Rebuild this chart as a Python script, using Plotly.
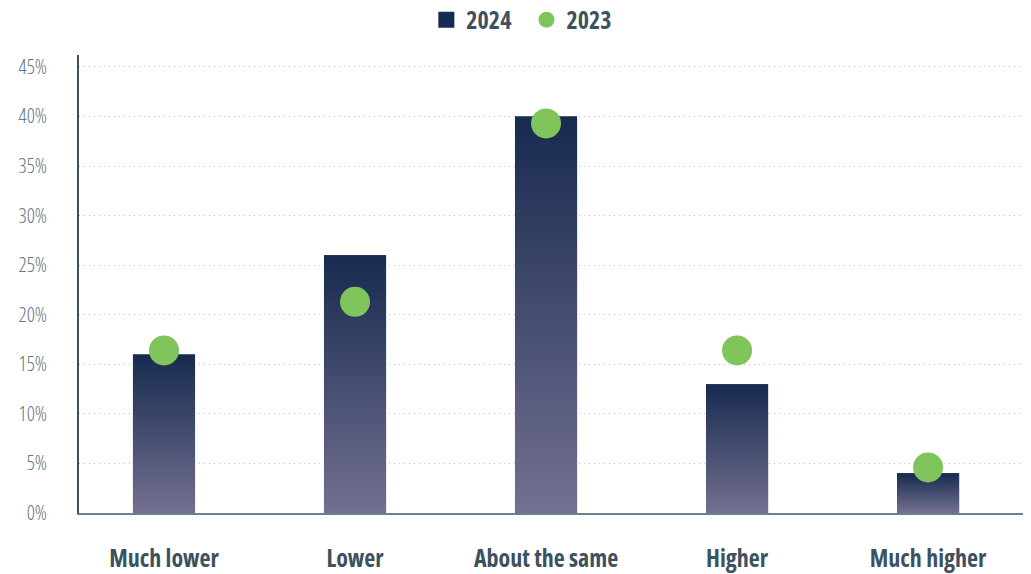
import plotly.graph_objects as go

categories = ["Much lower", "Lower", "About the same", "Higher", "Much higher"]
values_2024 = [16, 26, 40, 13, 4]
values_2023 = [16.4, 21.3, 39.3, 16.4, 4.6]
y_tickvals = [0, 5, 10, 15, 20, 25, 30, 35, 40, 45]
y_ticktext = ["0%", "5%", "10%", "15%", "20%", "25%", "30%", "35%", "40%", "45%"]

NAVY = "#172a4f"
LIGHT = "#737090"
GREEN = "#80c45c"
BAR_W = 0.325
COND = "Open Sans"

xs = list(range(len(categories)))

fig = go.Figure()

fig.add_trace(go.Bar(
    x=xs, y=values_2024, width=BAR_W, name="2024", showlegend=False,
    marker=dict(color=NAVY, line=dict(width=0)),
))

for i, v in zip(xs, values_2024):
    fig.add_trace(go.Scatter(
        x=[i - BAR_W / 2, i + BAR_W / 2, i + BAR_W / 2, i - BAR_W / 2, i - BAR_W / 2],
        y=[0, 0, v, v, 0],
        mode="lines", line=dict(width=0), fill="toself",
        fillgradient=dict(type="vertical", colorscale=[[0, LIGHT], [1, NAVY]]),
        showlegend=False, hoverinfo="skip",
    ))

# legend entry for the 2024 bars (square swatch)
fig.add_trace(go.Scatter(
    x=[None], y=[None], mode="markers", name="2024",
    marker=dict(color=NAVY, size=16, symbol="square", line=dict(width=0)),
))

fig.add_trace(go.Scatter(
    x=xs, y=values_2023, mode="markers", name="2023",
    marker=dict(color=GREEN, size=30, line=dict(width=0)),
))

fig.update_layout(
    width=1031, height=574,
    margin=dict(l=79, r=8, t=55, b=61, autoexpand=False),
    paper_bgcolor="white", plot_bgcolor="white",
    showlegend=True,
    legend=dict(orientation="h", xref="container", x=0.511, xanchor="center",
                yref="container", y=0.965, yanchor="middle",
                font=dict(family=COND, size=24, color="#3d5260", weight="bold"),
                traceorder="normal"),
    xaxis=dict(range=[-0.445, 4.497], tickvals=xs, ticktext=categories,
               showgrid=False, zeroline=False, showline=True, linecolor="#6b7f8c", linewidth=2,
               ticks="", ticklabelstandoff=23, automargin=False,
               tickfont=dict(family=COND, size=24, color="#3d5260", weight="bold")),
    yaxis=dict(range=[0, 46.2], tickvals=y_tickvals, ticktext=y_ticktext,
               showgrid=True, gridcolor="#bdbdbd", griddash="1px,4px", gridwidth=1,
               zeroline=False, showline=True, linecolor="#3d4f5c", linewidth=2,
               ticks="", ticklabelstandoff=26, automargin=False,
               tickfont=dict(family=COND, size=20, color="#627686", weight=300)),
)

post = """
document.body.style.margin = '0';
document.querySelectorAll('.main-svg text').forEach(function(t){
  t.style.fontStretch = '75%';
});
document.querySelectorAll('.xtick text, .legendtext').forEach(function(t){
  t.style.fontStretch = '80%';
});
"""

fig.write_html("out.html", post_script=post, config={"displayModeBar": False})
